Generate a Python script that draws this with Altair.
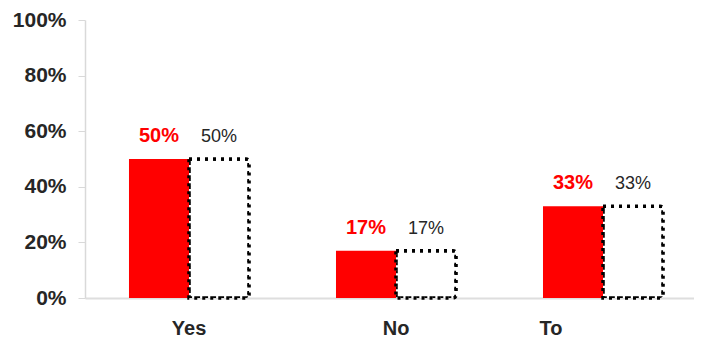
import altair as alt
import pandas as pd

categories = ["Yes", "No", "To"]
series_names = ["A", "B"]
values_a = [0.50, 0.17, 0.33]
values_b = [0.50, 0.17, 0.33]
y_ticks = [0, 0.2, 0.4, 0.6, 0.8, 1.0]

rows = []
for c, a, b in zip(categories, values_a, values_b):
    rows.append({"cat": c, "series": "A", "value": a})
    rows.append({"cat": c, "series": "B", "value": b})
df = pd.DataFrame(rows)

FONT = "Liberation Sans"

x_enc = alt.X(
    "cat:N",
    sort=categories,
    scale=alt.Scale(paddingInner=0.42, paddingOuter=0.181, align=0.587),
    axis=alt.Axis(
        title=None,
        labelAngle=0,
        ticks=False,
        domainColor="#dedede",
        domainWidth=2,
        labelFont=FONT,
        labelFontSize=20,
        labelFontWeight="bold",
        labelColor="#262626",
        labelPadding=20,
        labelOffset={"condition": {"test": "datum.value === 'To'", "value": -52}, "value": 0},
    ),
)
xo_enc = alt.XOffset("series:N", sort=series_names, scale=alt.Scale(domain=series_names, paddingInner=0))
y_enc = alt.Y(
    "value:Q",
    scale=alt.Scale(domain=[0, 1]),
    axis=alt.Axis(
        title=None,
        values=y_ticks,
        format=".0%",
        grid=False,
        domainColor="#d9d9d9",
        domainWidth=1.5,
        tickColor="#d9d9d9",
        tickSize=7,
        labelFont=FONT,
        labelFontSize=21,
        labelFontWeight="bold",
        labelColor="#262626",
        labelPadding=12,
    ),
)

base = alt.Chart(df).encode(x=x_enc, xOffset=xo_enc, y=y_enc)

red_bars = base.transform_filter("datum.series === 'A'").mark_bar(color="#ff0000")
dotted_bars = base.transform_filter("datum.series === 'B'").mark_bar(
    fill="white",
    stroke="black",
    strokeWidth=3.5,
    strokeDash=[3, 5],
    cornerRadiusTopRight=3,
    cornerRadiusBottomRight=3,
)
red_text = base.transform_filter("datum.series === 'A'").mark_text(
    color="#ff0000", font=FONT, fontSize=20, fontWeight="bold", dy=-17, baseline="alphabetic"
).encode(text=alt.Text("value:Q", format=".0%"))
black_text = base.transform_filter("datum.series === 'B'").mark_text(
    color="#262626", font=FONT, fontSize=18, dy=-17, baseline="alphabetic"
).encode(text=alt.Text("value:Q", format=".0%"))

chart = (
    alt.layer(red_bars, dotted_bars, red_text, black_text)
    .properties(
        width=609,
        height=278,
        autosize=alt.AutoSizeParams(type="none"),
        padding={"left": 77, "top": 12, "right": 0, "bottom": 42},
    )
    .configure_view(stroke=None)
)

chart.save("out.html", embed_options={"renderer": "svg", "actions": False})
